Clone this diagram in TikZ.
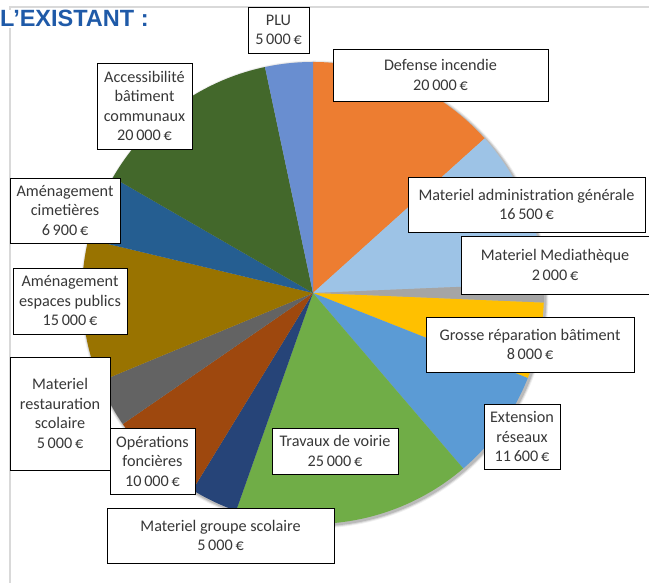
\documentclass[tikz,border=0pt]{standalone}
\usepackage{fontspec}
\setmainfont{Carlito}
\newfontfamily\titlefont{Liberation Sans}
\usepackage{xcolor}
\usepackage{tikz}

\definecolor{frameGray}{HTML}{D9D9D9}
\definecolor{titleBlue}{HTML}{1F5AA8}

\begin{document}
\begin{tikzpicture}[x=1pt, y=1pt,
    lbl/.style={draw=black, fill=white, line width=0.8pt, align=center,
                inner sep=0pt, font=\fontsize{16.2}{19.5}\selectfont, text=black!78},
    box/.style 2 args={lbl, minimum width=#1, minimum height=#2}]

    \useasboundingbox (0,0) rectangle (649,583);

    % chart frame and title
    \draw[frameGray, line width=1.5pt] (649,576) -- (10,576) -- (10,0);
    \node[anchor=base west, fill=white, inner sep=1pt, text=titleBlue,
          font=\titlefont\bfseries\fontsize{23.5}{25}\selectfont] (title) at (-1,556) {L’EXISTANT :};

    % pie
    \coordinate (c) at (313,290);
    \def\R{231}
    \foreach \r/\o in {3/0.06, 2/0.10, 1/0.14}
        \fill[black, opacity=\o] ([shift={(1.5,-1.5)}]c) circle (\R+\r);
    \foreach \a/\b/\col in {90/42/ED7D31, 42/2.4/9DC3E6, 2.4/-2.4/A5A5A5,
                            -2.4/-21.6/FFC000, -21.6/-49.44/5B9BD5, -49.44/-109.44/70AD47,
                            -109.44/-121.44/264478, -121.44/-145.44/9E480E,
                            -145.44/-157.44/636363, -157.44/-193.44/997300,
                            -193.44/-210/255E91, -210/-258/43682B, -258/-270/698ED0}{
        \definecolor{slicecol}{HTML}{\col}
        \fill[slicecol] (c) -- ([shift={(\a:\R)}]c)
            arc[start angle=\a, end angle=\b, radius=\R] -- cycle;
    }

    % data labels
    \node[box={61}{46}]  (plu)       at (278.5,553) {PLU\\5\,000\,€};
    \node[box={215}{52}] (defense)   at (440.5,508) {Defense incendie\\20\,000\,€};
    \node[box={237}{55}] (admin)     at (526.5,378.5) {Materiel administration générale\\16\,500\,€};
    \node[box={188}{58}] (media)     at (555,318) {Materiel Mediathèque\\2\,000\,€};
    \node[box={208}{55}] (grosse)    at (530,238.5) {Grosse réparation bâtiment\\8\,000\,€};
    \node[box={76}{65}]  (extension) at (522,146.5) {Extension\\réseaux\\11\,600\,€};
    \node[box={126}{46}] (voirie)    at (335,132) {Travaux de voirie\\25\,000\,€};
    \node[box={227}{55}] (groupe)    at (220.5,47.5) {Materiel groupe scolaire\\5\,000\,€};
    \node[box={85}{66}]  (foncier)   at (152.5,122) {Opérations\\foncières\\10\,000\,€};
    \node[box={100}{113}] (restau)   at (60,169.5) {Materiel\\restauration\\scolaire\\5\,000\,€};
    \node[box={114}{66}] (espaces)   at (70,282) {Aménagement\\espaces publics\\15\,000\,€};
    \node[box={110}{65}] (cimetiere) at (65,372.5) {Aménagement\\cimetières\\6\,900\,€};
    \node[box={95}{86}]  (access)    at (144.5,477) {Accessibilité\\bâtiment\\communaux\\20\,000\,€};

\end{tikzpicture}
\end{document}
